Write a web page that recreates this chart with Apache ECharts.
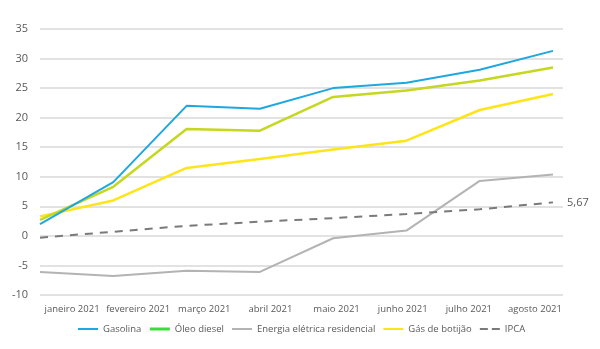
<!DOCTYPE html>
<html><head><meta charset="utf-8">
<script src="https://cdn.jsdelivr.net/npm/echarts@6/dist/echarts.min.js"></script>
<style>html,body{margin:0;padding:0;background:#fff}#c{width:600px;height:349px}</style>
</head><body><div id="c"></div>
<script>
const categories = ['janeiro 2021','fevereiro 2021','março 2021','abril 2021','maio 2021','junho 2021','julho 2021','agosto 2021'];
const gasolina = [2.0, 9.1, 22.0, 21.5, 25.0, 25.9, 28.1, 31.3];
const oleoDiesel = [2.7, 8.3, 18.1, 17.8, 23.5, 24.6, 26.3, 28.5];
const energia = [-6.1, -6.8, -5.9, -6.1, -0.4, 0.9, 9.3, 10.4];
const gas = [3.3, 6.0, 11.5, 13.0, 14.6, 16.1, 21.3, 24.0];
const ipca = [-0.3, 0.7, 1.7, 2.4, 3.0, 3.7, 4.5, 5.67];
const yTicks = {min: -10, max: 35, interval: 5};

const font = 'Open Sans';
const txt = '#595959';
const chart = echarts.init(document.getElementById('c'));
const gridTop = 29, gridBottom = 54;
chart.setOption({
  animation: false,
  textStyle: {fontFamily: font},
  grid: [
    {left: 40, right: 37, top: gridTop, bottom: gridBottom},
    {left: 39, right: 32, top: gridTop, bottom: gridBottom},
    {left: 40, right: 47, top: gridTop, bottom: gridBottom}
  ],
  xAxis: [
    {gridIndex: 0, type: 'category', data: categories, show: false},
    {gridIndex: 1, type: 'category', data: categories, boundaryGap: true,
     axisLine: {show: false}, axisTick: {show: false},
     axisLabel: {color: txt, fontSize: 9.5, margin: 9, interval: 0, fontFamily: font}},
    {gridIndex: 2, type: 'category', data: categories, boundaryGap: false, show: false}
  ],
  yAxis: [
    {gridIndex: 0, type: 'value', min: yTicks.min, max: yTicks.max, interval: yTicks.interval,
     axisLine: {show: false}, axisTick: {show: false},
     axisLabel: {color: txt, fontSize: 11, margin: 12, fontFamily: font},
     splitLine: {lineStyle: {color: '#d9d9d9', width: 1.5}}},
    {gridIndex: 1, type: 'value', min: yTicks.min, max: yTicks.max, interval: yTicks.interval, show: false},
    {gridIndex: 2, type: 'value', min: yTicks.min, max: yTicks.max, interval: yTicks.interval, show: false}
  ],
  legend: {
    bottom: 10, left: 72, itemWidth: 20, itemHeight: 10, itemGap: 7,
    itemStyle: {opacity: 0},
    textStyle: {color: txt, fontSize: 9.5, fontFamily: font},
    data: [
      {name: 'Gasolina'},
      {name: 'Óleo diesel', lineStyle: {color: '#3ddc3d', width: 3}},
      {name: 'Energia elétrica residencial'},
      {name: 'Gás de botijão'},
      {name: 'IPCA', lineStyle: {type: [8, 4]}}
    ]
  },
  series: [
    {name: 'Energia elétrica residencial', type: 'line', xAxisIndex: 2, yAxisIndex: 2, data: energia,
     symbol: 'none', color: '#b3b3b3', lineStyle: {width: 2}},
    {name: 'IPCA', type: 'line', xAxisIndex: 2, yAxisIndex: 2, data: ipca,
     symbol: 'none', color: '#7a7a7a', lineStyle: {width: 2, type: [8, 7]},
     endLabel: {show: true, color: txt, fontSize: 11, distance: 14, fontFamily: font,
       formatter: p => String(p.value).replace('.', ',')}},
    {name: 'Gás de botijão', type: 'line', xAxisIndex: 2, yAxisIndex: 2, data: gas,
     symbol: 'none', color: '#ffe418', lineStyle: {width: 2.5}},
    {name: 'Óleo diesel', type: 'line', xAxisIndex: 2, yAxisIndex: 2, data: oleoDiesel,
     symbol: 'none', color: '#c5d71e', lineStyle: {width: 2.5}},
    {name: 'Gasolina', type: 'line', xAxisIndex: 2, yAxisIndex: 2, data: gasolina,
     symbol: 'none', color: '#1ea7e1', lineStyle: {width: 2}}
  ]
});
</script></body></html>
